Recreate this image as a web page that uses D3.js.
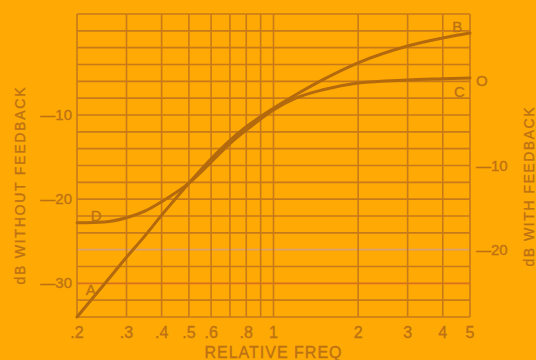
<!DOCTYPE html>
<html><head><meta charset="utf-8">
<script src="https://cdn.jsdelivr.net/npm/d3@7"></script>
<style>html,body{margin:0;padding:0;background:#FFA905;}svg{display:block;}</style>
</head><body>
<svg id="c" width="536" height="360"></svg>
<script>
// ---- data ----
const freqs = [0.2,0.25,0.3,0.35,0.4,0.5,0.6,0.7,0.8,1.0,1.2,1.5,2,3,4,5];
// curve A-B : dB without feedback (left axis)
const withoutFb = [-34,-30.1,-26.9,-24.3,-21.9,-18.1,-15.2,-13.0,-11.4,-9.2,-7.6,-5.8,-3.8,-1.8,-0.85,-0.26];
// curve D-C : dB with feedback (right axis)
const withFb = [-16.8,-16.7,-16.2,-15.4,-14.3,-12.1,-9.6,-7.4,-5.8,-3.4,-2.0,-1.0,-0.2,0.16,0.3,0.4];
const xGrid = [0.2,0.3,0.4,0.5,0.6,0.7,0.8,0.9,1,2,3,4,5];
const xTickVals = [0.2,0.3,0.4,0.5,0.6,0.8,1,2,3,4,5];
const xTickLabels = [".2",".3",".4",".5",".6",".8","1","2","3","4","5"];
const leftTicks = [-10,-20,-30];
const rightTicks = [0,-10,-20];
const curveLabels = [
  {t:"A", f:0.215, v:-31.4},
  {t:"D", f:0.224, v:-22.6},
  {t:"B", f:4.32, v:-0.14},
  {t:"C", f:4.39, v:-7.86}
];

// ---- layout ----
const svg = d3.select("#c");
const L = 77, R = 470, T = 14, B = 317;
const x = d3.scaleLog().domain([0.2,5]).range([L,R]);
const yL = d3.scaleLinear().domain([-34,2]).range([B,T]);
const yR = d3.scaleLinear().domain([-28,8]).range([B,T]);
const gridCol = "#C77A1A", inkCol = "#B3690E", txtCol = "#BC7214";
const font = "'Liberation Sans', Arial, sans-serif";

const txt = sel => sel.attr("font-family", font).attr("fill", txtCol)
  .attr("stroke", txtCol).attr("stroke-width", 0.35);

// horizontal grid every 2 dB
const hLines = d3.range(-34, 2.01, 2);
svg.append("g").selectAll("line").data(hLines).join("line")
  .attr("x1", L).attr("x2", R)
  .attr("y1", d => yL(d)).attr("y2", d => yL(d))
  .attr("stroke", d => d === -26 ? "#D9A070" : (d === -30 ? "#D8701E" : gridCol))
  .attr("stroke-width", 1.6);
// vertical grid
svg.append("g").selectAll("line").data(xGrid).join("line")
  .attr("x1", d => x(d)).attr("x2", d => x(d))
  .attr("y1", T).attr("y2", B)
  .attr("stroke", gridCol).attr("stroke-width", 1.6);

// curves
const line = (vals, ys) => d3.line().x((d,i)=>x(freqs[i])).y(d=>ys(d)).curve(d3.curveMonotoneX)(vals);
svg.append("path").attr("d", line(withoutFb, yL)).attr("fill","none")
  .attr("stroke", inkCol).attr("stroke-width", 3).attr("stroke-linecap","round");
svg.append("path").attr("d", line(withFb, yR)).attr("fill","none")
  .attr("stroke", inkCol).attr("stroke-width", 3).attr("stroke-linecap","round");

// x tick labels
svg.append("g").selectAll("text").data(xTickVals).join("text")
  .attr("x", d => x(d)).attr("y", 338)
  .attr("text-anchor","middle").attr("font-size", 16)
  .call(txt).text((d,i)=>xTickLabels[i]);

// left tick labels
svg.append("g").selectAll("text").data(leftTicks).join("text")
  .attr("x", 72).attr("y", d => yL(d) + 5)
  .attr("text-anchor","end").attr("font-size", 15)
  .call(txt).text(d => "\u2014" + Math.abs(d));
// right tick labels
svg.append("g").selectAll("text").data(rightTicks).join("text")
  .attr("x", 476).attr("y", d => yR(d) + 5)
  .attr("text-anchor","start").attr("font-size", 15)
  .call(txt).text(d => d === 0 ? "O" : "\u2014" + Math.abs(d));

// curve letters
svg.append("g").selectAll("text").data(curveLabels).join("text")
  .attr("x", d => x(d.f)).attr("y", d => yL(d.v))
  .attr("font-size", 15).call(txt)
  .text(d => d.t);

// axis titles
svg.append("text").attr("transform","translate(25,186) rotate(-90)")
  .attr("text-anchor","middle").attr("font-size", 14).call(txt)
  .attr("textLength", 197).attr("lengthAdjust","spacing")
  .text("dB WITHOUT FEEDBACK");
svg.append("text").attr("transform","translate(534,187) rotate(-90)")
  .attr("text-anchor","middle").attr("font-size", 14).call(txt)
  .attr("textLength", 159).attr("lengthAdjust","spacing")
  .text("dB WITH FEEDBACK");
svg.append("text").attr("x", 273).attr("y", 358)
  .attr("text-anchor","middle").attr("font-size", 16).call(txt)
  .attr("textLength", 137).attr("lengthAdjust","spacing")
  .text("RELATIVE FREQ");
</script>
</body></html>
